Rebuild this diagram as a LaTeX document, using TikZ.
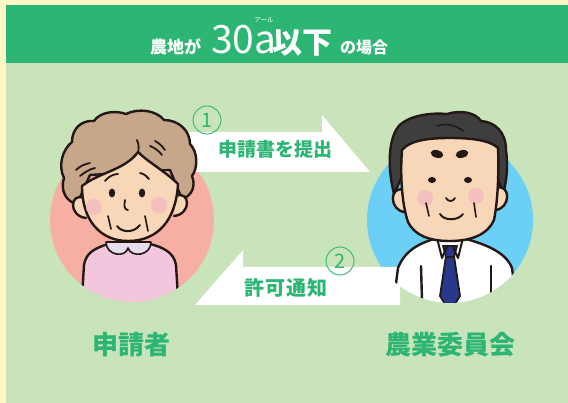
\documentclass[tikz,border=0pt]{standalone}
\usepackage{fontspec}
\newfontfamily\jpfont{Noto Sans CJK JP}

\definecolor{margincol}{HTML}{FFF8C6}
\definecolor{panelcol}{HTML}{C9E3BA}
\definecolor{hdrgreen}{HTML}{2DB673}
\definecolor{pinkbg}{HTML}{F7AFA4}
\definecolor{bluebg}{HTML}{6CCFF6}
\definecolor{haircol}{HTML}{C6A78A}
\definecolor{skincol}{HTML}{F8D6B8}
\definecolor{blushcol}{HTML}{F5BFC0}
\definecolor{blousecol}{HTML}{F2C6DC}
\definecolor{collarcol}{HTML}{E6DDEE}
\definecolor{darkhair}{HTML}{3E3E3E}
\definecolor{tiecol}{HTML}{28388C}
\definecolor{inkcol}{HTML}{231815}

\tikzset{
  inkline/.style={draw=inkcol, line width=2.4pt, line join=round, line cap=round},
  hdrtext/.style={text=white, inner sep=0pt, anchor=base west},
  numcirc/.style={circle, draw=hdrgreen, line width=0.9pt, minimum size=28pt,
    inner sep=0pt, text=hdrgreen, font=\jpfont\fontsize{20}{20}\selectfont},
  steptext/.style={text=hdrgreen, inner sep=0pt,
    font=\jpfont\bfseries\fontsize{19}{19}\selectfont},
  whoname/.style={text=hdrgreen, inner sep=0pt,
    font=\jpfont\bfseries\fontsize{26}{26}\selectfont},
}

\begin{document}
\begin{tikzpicture}[x=1pt, y=-1pt]
  \useasboundingbox (0,0) rectangle (568,403);
  % background and title band
  \fill[margincol] (0,0) rectangle (568,403);
  \fill[panelcol] (6,63) rectangle (568,403);
  \fill[hdrgreen] (6,5) rectangle (568,63);

  \node[hdrtext, font=\jpfont\bfseries\fontsize{17}{17}\selectfont] (hnochi) at (150,54) {農地が};
  \node[hdrtext, text height=28pt, text depth=0pt, font=\jpfont\fontsize{39}{39}\selectfont] (harea) at (211,54) {30a};
  \node[hdrtext, font=\jpfont\bfseries\fontsize{30}{30}\selectfont] (hika) at (272,54) {以下};
  \node[hdrtext, font=\jpfont\bfseries\fontsize{16}{16}\selectfont] (hcase) at (340,54) {の場合};
  \node[text=white, inner sep=0pt, text height=5pt, text depth=0.5pt,
    font=\jpfont\fontsize{6.5}{6.5}\selectfont] (hruby) at (264,20) {アール};

  % portrait discs
  \coordinate (applicant) at (132,220);
  \coordinate (committee) at (450,220);
  \fill[pinkbg] (applicant) circle (82);
  \fill[bluebg] (committee) circle (83);

  % the two half arrows
  \fill[white] (160,132) -- (322,132) -- (322,115) -- (370,172) -- (160,172) -- cycle;
  \fill[white] (400,267) -- (243,267) -- (243,250) -- (195,305) -- (400,305) -- cycle;

  \node[numcirc] (numone) at (207,120) {1};
  \node[numcirc] (numtwo) at (340,261) {2};
  \node[steptext] (submit) at (275,149) {申請書を提出};
  \node[steptext, font=\jpfont\bfseries\fontsize{20}{20}\selectfont\addfontfeatures{LetterSpace=6}] (permit) at (286,288) {許可通知};

  % applicant: blouse and collar
  \begin{scope}
    \clip (applicant) circle (82);
    \fill[blousecol] (108,244) .. controls (96,248) and (86,252) .. (84,265) -- (80,330)
      -- (180,330) -- (176,265) .. controls (174,252) and (162,247) .. (150,244) -- cycle;
    \draw[inkline] (80,330) -- (84,265) .. controls (86,252) and (96,248) .. (108,244);
    \draw[inkline] (180,330) -- (176,265) .. controls (174,252) and (162,247) .. (150,244);
  \end{scope}
  \filldraw[inkline, fill=collarcol, line width=1.6pt] (106,242) .. controls (106,256) and (126,258) .. (128,248)
    .. controls (131,258) and (151,256) .. (151,242) -- cycle;
  % applicant: hair
  \filldraw[inkline, fill=haircol] (77,204) .. controls (66,202) and (60,190) .. (64,178)
    .. controls (58,166) and (62,150) .. (72,142)
    .. controls (72,128) and (82,120) .. (94,121)
    .. controls (100,112) and (115,110) .. (126,114)
    .. controls (138,108) and (156,110) .. (164,120)
    .. controls (178,120) and (190,130) .. (190,144)
    .. controls (198,152) and (198,168) .. (192,176)
    .. controls (196,186) and (192,196) .. (182,199)
    -- (170,170) -- (90,175) -- cycle;
  \draw[inkline, line width=1.8pt] (76,170) .. controls (80,166) and (85,164) .. (90,163);
  \draw[inkline, line width=1.8pt] (80,176) .. controls (85,172) and (90,169) .. (95,168);
  \draw[inkline, line width=1.8pt] (150,146) .. controls (155,148) and (159,151) .. (162,155);
  \draw[inkline, line width=1.8pt] (155,141) .. controls (159,143) and (162,146) .. (165,150);
  \draw[inkline, line width=1.8pt] (137,140) .. controls (139,145) and (139,149) .. (138,153);
  % applicant: ears and face
  \filldraw[inkline, fill=skincol] (84,198) .. controls (70,192) and (68,216) .. (86,218);
  \filldraw[inkline, fill=skincol] (176,196) .. controls (190,190) and (192,214) .. (174,216);
  \filldraw[inkline, fill=skincol] (82,186) .. controls (82,220) and (100,241) .. (128,241)
    .. controls (158,241) and (176,220) .. (178,184)
    .. controls (166,172) and (148,162) .. (138,152)
    .. controls (125,170) and (100,172) .. (82,186) -- cycle;
  \fill[blushcol] (94,207) circle (8);
  \fill[blushcol] (159,205) circle (8);
  \draw[inkline, line width=1.8pt] (105,181) .. controls (108,177) and (113,174) .. (118,174);
  \draw[inkline, line width=1.8pt] (140,173) .. controls (144,174) and (147,176) .. (149,179);
  \fill[inkcol] (112,193) ellipse (3.2 and 4.4);
  \fill[inkcol] (142,193) ellipse (3.2 and 4.4);
  \draw[inkline, line width=1.8pt] (125,200) .. controls (124,205) and (124,210) .. (128,210);
  \draw[inkline, line width=2pt] (117,226) .. controls (122,233) and (134,233) .. (140,225);
  \draw[inkline, line width=1.6pt] (108,216) -- (111,229);
  \draw[inkline, line width=1.6pt] (145,216) -- (148,231);

  % committee member: shirt and tie
  \begin{scope}
    \clip (committee) circle (83);
    \fill[white] (437,238) .. controls (420,243) and (405,250) .. (398,268) -- (390,330)
      -- (520,330) -- (512,268) .. controls (505,250) and (480,243) .. (463,238) -- cycle;
    \draw[inkline] (390,330) -- (398,268) .. controls (405,250) and (420,243) .. (437,238);
    \draw[inkline] (520,330) -- (512,268) .. controls (505,250) and (480,243) .. (463,238);
    \filldraw[inkline, fill=tiecol, line width=1.8pt] (446,256) -- (440,296) -- (450,312) -- (460,296) -- (454,256) -- cycle;
    \draw[inkline] (421,266) -- (422,300);
    \draw[inkline] (491,266) -- (491,300);
  \end{scope}
  \filldraw[inkline, fill=tiecol, line width=1.8pt] (443,246) -- (457,246) -- (454,257) -- (446,257) -- cycle;
  \draw[inkline, line width=2pt] (437,238) -- (442,258) -- (447,247);
  \draw[inkline, line width=2pt] (463,238) -- (458,258) -- (453,247);
  % committee member: hair
  \filldraw[inkline, fill=darkhair] (394,194) .. controls (388,170) and (388,145) .. (396,130)
    .. controls (402,118) and (425,112) .. (447,114)
    .. controls (460,110) and (475,112) .. (481,121)
    .. controls (495,122) and (506,132) .. (506,150)
    .. controls (508,165) and (507,180) .. (503,194)
    -- (495,170) -- (405,170) -- cycle;
  \draw[inkcol, line width=1.5pt, line cap=round] (437,126) .. controls (446,123) and (456,125) .. (463,131);
  % committee member: ears and face
  \filldraw[inkline, fill=skincol] (404,190) .. controls (389,185) and (389,211) .. (405,212);
  \filldraw[inkline, fill=skincol] (496,188) .. controls (511,183) and (511,209) .. (495,210);
  \filldraw[inkline, fill=skincol] (402,150) .. controls (400,175) and (402,205) .. (408,222)
    .. controls (415,236) and (430,241) .. (450,241)
    .. controls (472,241) and (488,234) .. (494,220)
    .. controls (498,200) and (499,170) .. (498,148)
    .. controls (490,140) and (470,138) .. (450,138)
    .. controls (430,138) and (410,140) .. (402,150) -- cycle;
  \fill[blushcol] (425,198) circle (8);
  \fill[blushcol] (476,196) circle (8);
  \fill[inkcol, rotate around={-15:(437,154)}] (437,154) ellipse (6.5 and 3.8);
  \fill[inkcol, rotate around={15:(462,154)}] (462,154) ellipse (6.5 and 3.8);
  \fill[inkcol] (432,180) ellipse (4 and 3);
  \fill[inkcol] (468,180) ellipse (4 and 3);
  \draw[inkline, line width=1.8pt] (446,198) .. controls (448,202) and (453,202) .. (455,198);
  \draw[inkline, line width=2pt] (440,214) .. controls (444,221) and (458,221) .. (463,214);
  \draw[inkline, line width=1.6pt] (426,203) -- (429,216);
  \draw[inkline, line width=1.6pt] (474,203) -- (476,217);

  % names below the discs
  \node[whoname] (applname) at (131,345) {申請者};
  \node[whoname] (commname) at (450,345) {農業委員会};
\end{tikzpicture}
\end{document}
